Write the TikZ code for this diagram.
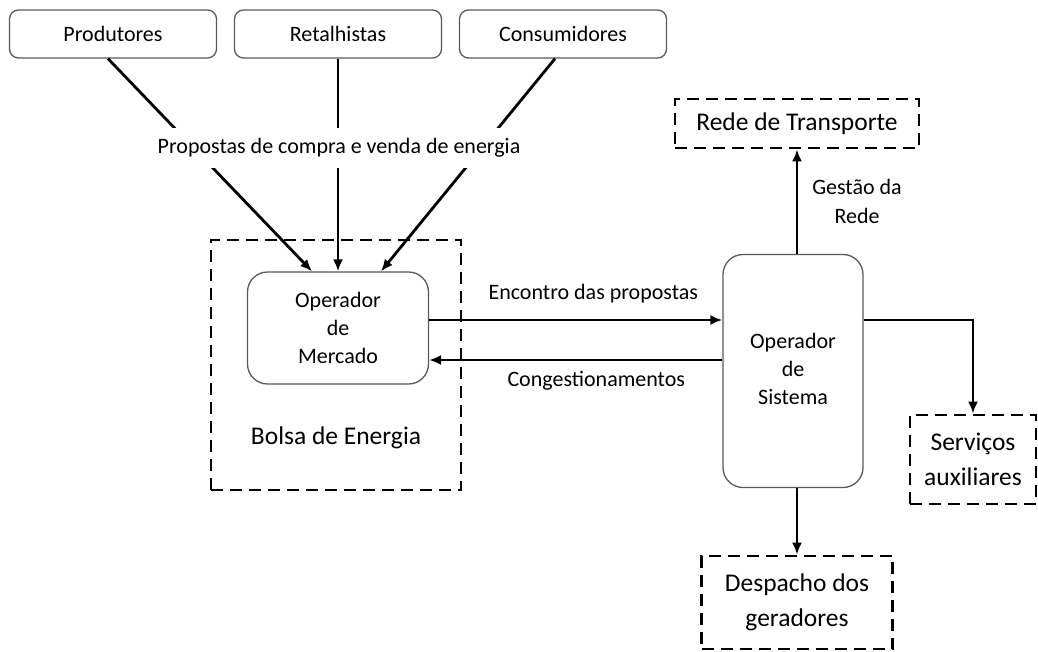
\documentclass[tikz,border=0pt]{standalone}
\usepackage{fontspec}
\setmainfont{Carlito}
\usetikzlibrary{positioning, arrows.meta}

\begin{document}
\begin{tikzpicture}[x=1pt, y=-1pt, on grid, node distance=225pt,
        font=\fontsize{22}{28}\selectfont,
        agent/.style={draw=black!65, line width=1.3pt, rounded corners=9pt, minimum width=207pt, minimum height=48pt},
        oper/.style={draw=black!65, line width=1.3pt, rounded corners=20pt, align=center},
        zone/.style={draw, line width=2.8pt, dash pattern=on 12pt off 7pt, align=center, font=\fontsize{25.5}{35}\selectfont},
        link/.style={line width=2.8pt, -{Latex[length=12pt, width=10pt]}}]
    \useasboundingbox (0,0) rectangle (1038,651);

    \node[agent] (prod) at (113,34) {Produtores};
    \node[agent, right=of prod] (ret) {Retalhistas};
    \node[agent, right=of ret] (cons) {Consumidores};

    \node[zone, minimum width=250pt, minimum height=250pt] (bolsa) at (336,365) {};
    \node[oper, minimum width=181pt, minimum height=112pt] (om) at (338,328) {Operador\\de\\Mercado};
    \node[font=\fontsize{25.5}{35}\selectfont] (bolsatxt) at (336,438) {Bolsa de Energia};

    \node[oper, minimum width=140pt, minimum height=233pt] (os) at (793,371) {\raisebox{6pt}{\begin{tabular}{@{}c@{}}Operador\\de\\Sistema\end{tabular}}};
    \node[zone, minimum width=244pt, minimum height=49pt] (rede) at (797,123.5) {Rede de Transporte};
    \node[zone, minimum width=126pt, minimum height=89pt] (serv) at (973,459.5) {Serviços\\auxiliares};
    \node[zone, minimum width=191pt, minimum height=93pt] (desp) at (797,602.5) {Despacho dos\\geradores};

    \coordinate (hi) at (0,320);
    \coordinate (lo) at (0,360);

    % propostas
    \draw[link] ([xshift=-5pt]prod.south) -- ([xshift=-26pt]om.north);
    \draw[link] (ret.south) -- (ret.south |- om.north);
    \draw[link] ([xshift=-8pt]cons.south) -- ([xshift=43pt]om.north);
    \node[fill=white, inner ysep=10pt] (prop) at (339,148) {Propostas de compra e venda de energia};

    % mercado e sistema
    \draw[link] (om.east |- hi) -- node[pos=0.56, yshift=26pt] {Encontro das propostas} (os.west |- hi);
    \draw[link] (os.west |- lo) -- node[pos=0.43, yshift=-21pt] {Congestionamentos} (om.east |- lo);

    \draw[link] (rede.south |- os.north) -- node[xshift=60pt, align=center, font=\fontsize{22}{29}\selectfont] {Gestão da\\Rede} (rede.south);
    \draw[link] (os.east |- hi) -| (serv.north);
    \draw[link] (desp.north |- os.south) -- (desp.north);
\end{tikzpicture}
\end{document}
